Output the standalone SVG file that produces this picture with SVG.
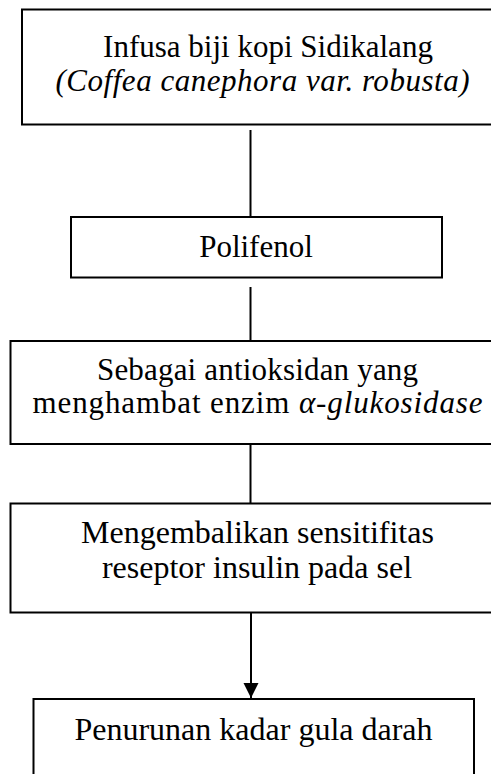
<svg xmlns="http://www.w3.org/2000/svg" width="491" height="774" viewBox="0 0 491 774">
<defs>
<style>
.box{fill:#fff;stroke:#000;stroke-width:2}
.t{font-family:"Liberation Serif","Times New Roman",serif;font-size:31px;fill:#000;text-anchor:middle}
.b{font-size:32px}
.i{font-style:italic}
.c{stroke:#000;stroke-width:2;fill:none}
</style>
<marker id="ah" markerWidth="16" markerHeight="16" refX="15" refY="7.5" orient="auto" markerUnits="userSpaceOnUse">
<path d="M0,0 L15,7.5 L0,15 Z" fill="#000"/>
</marker>
</defs>
<rect width="491" height="774" fill="#fff"/>
<g id="connectors">
<line class="c" x1="250.5" y1="130" x2="250.5" y2="217"/>
<line class="c" x1="250.5" y1="287" x2="250.5" y2="341"/>
<line class="c" x1="250.5" y1="444" x2="250.5" y2="503"/>
<line class="c" x1="251" y1="612" x2="251" y2="698" marker-end="url(#ah)"/>
</g>
<g id="node1">
<rect class="box" x="22" y="9.5" width="480" height="115"/>
<text class="t" x="268" y="57">Infusa biji kopi Sidikalang</text>
<text class="t i" x="262.5" y="91" textLength="414" lengthAdjust="spacing">(Coffea canephora var. robusta)</text>
</g>
<g id="node2">
<rect class="box" x="71" y="217" width="371" height="60.5"/>
<text class="t" x="256" y="257">Polifenol</text>
</g>
<g id="node3">
<rect class="box" x="10.5" y="341" width="491" height="103"/>
<text class="t" x="257.5" y="380" textLength="321" lengthAdjust="spacing">Sebagai antioksidan yang</text>
<text class="t" x="257.5" y="413" textLength="450" lengthAdjust="spacing">menghambat enzim <tspan class="i">α-glukosidase</tspan></text>
</g>
<g id="node4">
<rect class="box" x="10.5" y="503.5" width="491" height="109"/>
<text class="t b" x="257.5" y="543">Mengembalikan sensitifitas</text>
<text class="t b" x="257" y="578">reseptor insulin pada sel</text>
</g>
<g id="node5">
<rect class="box" x="33.5" y="699" width="440.5" height="90"/>
<text class="t b" x="253.5" y="740">Penurunan kadar gula darah</text>
</g>
</svg>
